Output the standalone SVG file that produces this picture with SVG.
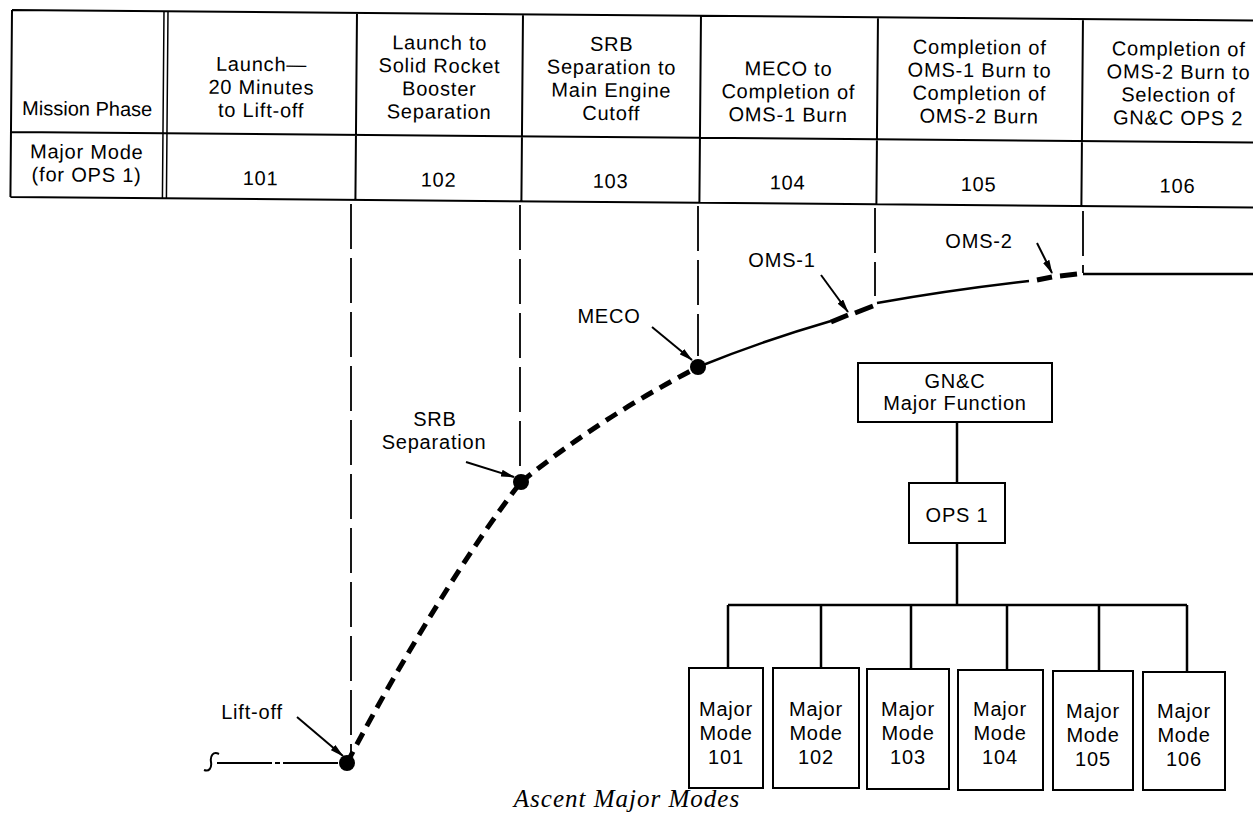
<svg xmlns="http://www.w3.org/2000/svg" width="1253" height="819" viewBox="0 0 1253 819">
<style>
text{font-family:"Liberation Sans",Arial,sans-serif;font-size:20px;letter-spacing:0.8px;fill:#000;text-anchor:middle}
.tl{stroke:#000;stroke-width:2;fill:none}
.tl2{stroke:#000;stroke-width:1.5;fill:none}
.vd{stroke:#000;stroke-width:1.8;fill:none;stroke-dasharray:45 9}
.thick{stroke:#000;stroke-width:5;fill:none;stroke-dasharray:13 8}
.seg{stroke:#000;stroke-width:5;fill:none}
.thin{stroke:#000;stroke-width:2.5;fill:none}
.arr{stroke:#000;stroke-width:2;fill:none;marker-end:url(#ah)}
.box{stroke:#000;stroke-width:2;fill:#fff}
.con{stroke:#000;stroke-width:2.5;fill:none}
.bx{letter-spacing:0.3px}
.cap{font-family:"Liberation Serif",serif;font-style:italic;font-size:25px;letter-spacing:1px}
</style>
<defs>
<marker id="ah" markerUnits="userSpaceOnUse" markerWidth="14" markerHeight="7" refX="13" refY="3.5" orient="auto">
<path d="M0,0 L14,3.5 L0,7 z" fill="#000"/>
</marker>
</defs>
<rect width="1253" height="819" fill="#fff"/>

<g id="table" transform="rotate(0.48 12 10)">
<path class="tl" d="M12,10 H1265 M12,10 V197 M12,132 H1265 M12,197 H1265 M357,10 V197 M523,10 V197 M701,10 V197 M878,10 V197 M1083,10 V197"/>
<path class="tl2" d="M164,10 V197 M168,10 V197"/>
<text x="88" y="115" style="letter-spacing:0">Mission Phase</text>
<text x="88" y="158">Major Mode</text>
<text x="88" y="181">(for OPS 1)</text>
<text x="262" y="69">Launch—</text>
<text x="262" y="92">20 Minutes</text>
<text x="262" y="115">to Lift-off</text>
<text x="440" y="46">Launch to</text>
<text x="440" y="69">Solid Rocket</text>
<text x="440" y="92">Booster</text>
<text x="440" y="115">Separation</text>
<text x="612" y="46">SRB</text>
<text x="612" y="69">Separation to</text>
<text x="612" y="92">Main Engine</text>
<text x="612" y="115">Cutoff</text>
<text x="789" y="69">MECO to</text>
<text x="789" y="92">Completion of</text>
<text x="789" y="115">OMS-1 Burn</text>
<text x="980" y="46">Completion of</text>
<text x="980" y="69">OMS-1 Burn to</text>
<text x="980" y="92">Completion of</text>
<text x="980" y="115">OMS-2 Burn</text>
<text x="1179" y="46">Completion of</text>
<text x="1179" y="69">OMS-2 Burn to</text>
<text x="1179" y="92">Selection of</text>
<text x="1179" y="115">GN&amp;C OPS 2</text>
<text x="262" y="183">101</text>
<text x="440" y="183">102</text>
<text x="612" y="183">103</text>
<text x="789" y="183">104</text>
<text x="980" y="183">105</text>
<text x="1179" y="183">106</text>
</g>

<g id="phase-lines">
<path class="vd" d="M351,204 V755"/>
<path class="vd" d="M520,205 V470"/>
<path class="vd" d="M698,206 V356"/>
<path class="vd" d="M875,208 V296"/>
<path class="vd" d="M1083,211 V273"/>
</g>

<g id="trajectory">
<path class="tl" d="M217,763 H338" stroke-dasharray="55 3 5 3"/>
<path class="tl" d="M219,754 C213,751 210,756 211,762 C212,768 209,772 204,770"/>
<path class="thick" d="M347,763 C385,690 460,560 521,482"/>
<path class="thick" d="M521,482 Q600,418 698,367"/>
<path class="thin" d="M698,367 Q762,341 831,321"/>
<path class="seg" d="M831,322 L848,315 M855,313 L873,306"/>
<path class="thin" d="M877,303 Q950,290 1029,281"/>
<path class="seg" d="M1037,280 L1052,277 M1060,276 L1077,274"/>
<path class="thin" d="M1083,274 H1253"/>
<circle cx="347" cy="763" r="8"/>
<circle cx="521" cy="482" r="8"/>
<circle cx="698" cy="367" r="8"/>
</g>

<g id="event-labels">
<text x="252" y="719">Lift-off</text>
<path class="arr" d="M297,717 L343,756"/>
<text x="435" y="426">SRB</text>
<text x="434" y="449">Separation</text>
<path class="arr" d="M466,462 L514,477"/>
<text x="609" y="323">MECO</text>
<path class="arr" d="M652,327 L692,360"/>
<text x="782" y="267">OMS-1</text>
<path class="arr" d="M821,275 L848,312"/>
<text x="979" y="248">OMS-2</text>
<path class="arr" d="M1037,243 L1052,273"/>
</g>

<g id="connectors">
<path class="con" d="M957,422 V483 M957,543 V605 M728,605 H1187 M728,605 V668 M821,605 V668 M911,605 V669 M1007,605 V670 M1099,605 V671 M1187,605 V672"/>
</g>

<g id="gnc">
<rect class="box" x="858" y="363" width="194" height="59"/>
<text x="955" y="388">GN&amp;C</text>
<text x="955" y="410">Major Function</text>
</g>
<g id="ops1">
<rect class="box" x="909" y="483" width="96" height="60"/>
<text x="957" y="522">OPS 1</text>
</g>
<g id="mm101" class="bx">
<rect class="box" x="689" y="668" width="74" height="120"/>
<text x="726" y="716">Major</text><text x="726" y="740">Mode</text><text x="726" y="764">101</text>
</g>
<g id="mm102" class="bx">
<rect class="box" x="773" y="668" width="86" height="120"/>
<text x="816" y="716">Major</text><text x="816" y="740">Mode</text><text x="816" y="764">102</text>
</g>
<g id="mm103" class="bx">
<rect class="box" x="867" y="669" width="82" height="120"/>
<text x="908" y="716">Major</text><text x="908" y="740">Mode</text><text x="908" y="764">103</text>
</g>
<g id="mm104" class="bx">
<rect class="box" x="958" y="670" width="85" height="120"/>
<text x="1000" y="716">Major</text><text x="1000" y="740">Mode</text><text x="1000" y="764">104</text>
</g>
<g id="mm105" class="bx">
<rect class="box" x="1053" y="671" width="80" height="119"/>
<text x="1093" y="718">Major</text><text x="1093" y="742">Mode</text><text x="1093" y="766">105</text>
</g>
<g id="mm106" class="bx">
<rect class="box" x="1143" y="672" width="82" height="118"/>
<text x="1184" y="718">Major</text><text x="1184" y="742">Mode</text><text x="1184" y="766">106</text>
</g>

<text class="cap" x="627" y="807">Ascent Major Modes</text>
</svg>
